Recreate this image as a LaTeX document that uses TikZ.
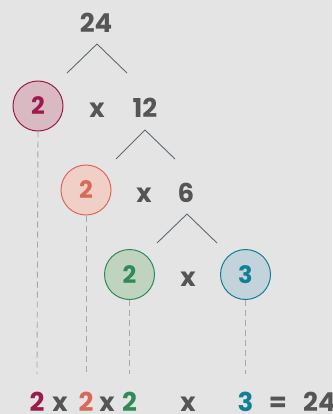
\documentclass[tikz,border=0pt]{standalone}
\usepackage{fontspec}
\setmainfont{Poppins}
\definecolor{bg}{HTML}{E4E4E4}
\definecolor{txt}{HTML}{555555}
\definecolor{ln}{HTML}{5F6A72}
\definecolor{dsh}{HTML}{A8A8A8}
\definecolor{cA}{HTML}{9B1C4C}\definecolor{fA}{HTML}{D9BAC2}
\definecolor{cB}{HTML}{D9685A}\definecolor{fB}{HTML}{F0D0C6}
\definecolor{cC}{HTML}{2E8B57}\definecolor{fC}{HTML}{C0D3BF}
\definecolor{cD}{HTML}{137F96}\definecolor{fD}{HTML}{C2D3DB}
\tikzset{
  lbl/.style={inner sep=0pt, text=txt, font=\fontsize{26}{26}\selectfont\bfseries, anchor=base},
  circ/.style={circle, minimum size=50pt, inner sep=0pt, line width=1pt, font=\fontsize{24}{24}\selectfont\bfseries},
  branch/.style={draw=ln, line width=0.9pt},
  drop/.style={draw=dsh, line width=0.9pt, dash pattern=on 6pt off 4pt}
}
\begin{document}
\begin{tikzpicture}[x=1pt,y=-1pt]
\fill[bg] (0,0) rectangle (332,414);
\useasboundingbox (0,0) rectangle (332,414);
% top
\node[lbl] (t24) at (96,33) {24};
\coordinate (a1) at (97,44); \coordinate (l1) at (67,73); \coordinate (r1) at (127,73);
\draw[branch] (l1) -- (a1) -- (r1);
\node[circ, draw=cA, fill=fA, text=cA] (c1) at (38,106) {2};
\node[lbl] (x1) at (97,118) {x};
\node[lbl] (t12) at (145,118) {12};
\coordinate (a2) at (145,130); \coordinate (l2) at (116,159); \coordinate (r2) at (175,159);
\draw[branch] (l2) -- (a2) -- (r2);
\node[circ, draw=cB, fill=fB, text=cB] (c2) at (86,190) {2};
\node[lbl] (x2) at (144,202) {x};
\node[lbl] (t6) at (186,202) {6};
\coordinate (a3) at (187,214); \coordinate (l3) at (157,243); \coordinate (r3) at (217,243);
\draw[branch] (l3) -- (a3) -- (r3);
\node[circ, draw=cC, fill=fC, text=cC] (c3) at (129.5,274.5) {2};
\node[lbl] (x3) at (188,286) {x};
\node[circ, draw=cD, fill=fD, text=cD] (c4) at (245.5,274.5) {3};
% drops
\coordinate (e1) at (37,374); \coordinate (e2) at (86,374);
\coordinate (e3) at (129.5,374); \coordinate (e4) at (245.5,374);
\draw[drop] (c1.south) -- (e1);
\draw[drop] (c2.south) -- (e2);
\draw[drop] (c3.south) -- (e3);
\draw[drop] (c4.south) -- (e4);
% bottom
\node[lbl, text=cA] (b1) at (37,411) {2};
\node[lbl] (bx1) at (60,411) {x};
\node[lbl, text=cB] (b2) at (86,411) {2};
\node[lbl] (bx2) at (107,411) {x};
\node[lbl, text=cC] (b3) at (129.5,411) {2};
\node[lbl] (bx3) at (188,411) {x};
\node[lbl, text=cD] (b4) at (245.5,411) {3};
\node[lbl] (beq) at (278,411) {=};
\node[lbl, anchor=base west] (b24) at (303,411) {24};
\end{tikzpicture}
\end{document}
